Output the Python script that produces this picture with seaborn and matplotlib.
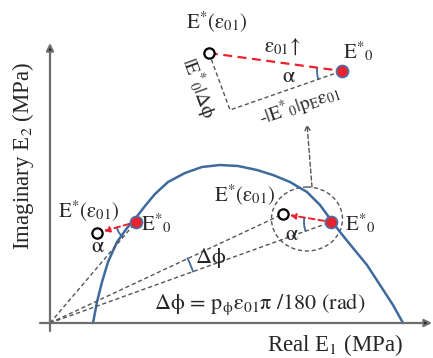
import numpy as np
import matplotlib
matplotlib.use("Agg")
import matplotlib.pyplot as plt
from matplotlib.patches import Arc, Ellipse
import seaborn as sns
import pandas as pd

sns.set_theme(style="white")
plt.rcParams["font.family"] = ["Liberation Serif", "DejaVu Serif"]
plt.rcParams["mathtext.fontset"] = "stix"

# ---- data (schematic, in picture units: x = real part, y = imaginary part, y downward) ----
curve_re = [93, 97, 102, 108, 117, 127, 135, 145, 155, 168, 185, 202, 220, 238, 257,
            273, 290, 307, 320, 331, 340, 353, 367, 380, 393, 403]
curve_im = [323, 302, 282, 262, 242, 228, 219, 206, 194, 182, 173, 167, 165, 166, 170,
            175, 182, 192, 205, 220, 232, 248, 265, 285, 305, 323]
origin = (50, 323)
e0_left = (136, 222)
e01_left = (97, 233)
e0_right = (331, 222)
e01_right = (283, 214)
e0_inset = (342, 71)
e01_inset = (209, 53)
corner_inset = (230, 110)

BLUE = "#3f6a9e"
RED = "#e8232d"
GRAY = "#555555"
AX = "#6e6e6e"

fig = plt.figure(figsize=(4.33, 3.58), dpi=100)
ax = fig.add_axes([0, 0, 1, 1])
ax.set_xlim(0, 433)
ax.set_ylim(358, 0)
ax.axis("off")

# axes with arrows
ax.annotate("", xy=(50, 43), xytext=(50, 331),
            arrowprops=dict(arrowstyle="-|>", color=AX, lw=1.6, mutation_scale=11,
                            shrinkA=0, shrinkB=0, fc="black"))
ax.annotate("", xy=(432, 323), xytext=(40, 323),
            arrowprops=dict(arrowstyle="-|>", color=AX, lw=1.6, mutation_scale=11,
                            shrinkA=0, shrinkB=0, fc="black"))

# curve
df = pd.DataFrame({"re": curve_re, "im": curve_im})
sns.lineplot(data=df, x="re", y="im", sort=False, color=BLUE, lw=1.8, ax=ax, estimator=None)

dash = (0, (3, 2))
# dashed rays from origin
for p in [e0_left, e0_right, e01_right]:
    ax.plot([origin[0], p[0]], [origin[1], p[1]], color=GRAY, lw=1.0, ls=dash)

# inset dashed right angle
ax.plot([e01_inset[0], corner_inset[0], e0_inset[0]],
        [e01_inset[1], corner_inset[1], e0_inset[1]], color=GRAY, lw=1.0, ls=dash)
ax.plot([e01_inset[0], e0_inset[0]], [e01_inset[1], e0_inset[1]], color=RED, lw=1.6, ls=(0, (4, 2.5)))

# red dashed arrows
for a, b in [(e0_left, e01_left), (e0_right, e01_right)]:
    ax.annotate("", xy=b, xytext=a,
                arrowprops=dict(arrowstyle="-|>", color=RED, lw=1.4, ls=(0, (3, 2)),
                                shrinkA=5, shrinkB=5, mutation_scale=8))

# ellipse (zoom region)
ax.add_patch(Ellipse((307, 219), 71, 64, fill=False, ec=GRAY, lw=1.0, ls=dash))
# dashed arrow up to inset
ax.annotate("", xy=(307, 124), xytext=(312, 187),
            arrowprops=dict(arrowstyle="->", color=GRAY, lw=1.0, ls=(0, (3, 2)),
                            shrinkA=0, shrinkB=0, mutation_scale=9))

# angle arcs
def arc(v, r, t1, t2):
    ax.add_patch(Arc(v, 2 * r, 2 * r, theta1=t1, theta2=t2, color=BLUE, lw=1.3))

arc(e0_left, 20, 130, 166)
arc(e0_right, 27, 160, 190)
arc(origin, 152, -25.5, -19.5)
arc(e0_inset, 25, 160, 188)

# points
pts_red = pd.DataFrame({"re": [e0_left[0], e0_right[0], e0_inset[0]],
                        "im": [e0_left[1], e0_right[1], e0_inset[1]]})
pts_hol = pd.DataFrame({"re": [e01_left[0], e01_right[0], e01_inset[0]],
                        "im": [e01_left[1], e01_right[1], e01_inset[1]]})
sns.scatterplot(data=pts_red, x="re", y="im", s=75, color=RED, edgecolor="#4a6fa8",
                linewidth=1.2, zorder=5, ax=ax)
sns.scatterplot(data=pts_hol, x="re", y="im", s=55, facecolor="white", edgecolor="black",
                linewidth=1.6, zorder=5, ax=ax)

# texts
E01 = r"$\mathrm{E}^{*}(\mathrm{\varepsilon}_{01})$"
E0 = r"$\mathrm{E}^{*}{}_{0}$"
ALPHA = r"$\mathrm{\alpha}$"
ax.text(89, 211, E01, fontsize=15, ha="center", va="center")
ax.text(141, 224, E0, fontsize=15, ha="left", va="center")
ax.text(98, 248, ALPHA, fontsize=16, ha="center", va="center")

ax.text(245, 195, E01, fontsize=15, ha="center", va="center")
ax.text(345, 224, E0, fontsize=15, ha="left", va="center")
ax.text(292, 236, ALPHA, fontsize=16, ha="center", va="center")

ax.text(217, 22, E01, fontsize=15, ha="center", va="center")
ax.text(343, 52, E0, fontsize=15, ha="left", va="center")
ax.text(282, 47, r"$\mathrm{\varepsilon}_{01}\!\uparrow$", fontsize=15, ha="center", va="center")
ax.text(289, 77, ALPHA, fontsize=16, ha="center", va="center")
ax.text(300, 106, r"-$|\mathrm{E}^{*}{}_{0}|\mathrm{p}_{\mathrm{E}}\mathrm{\varepsilon}_{01}$", fontsize=14,
        ha="center", va="center", rotation=19, rotation_mode="anchor")
ax.text(198, 88, r"$|\mathrm{E}^{*}{}_{0}|\Delta\mathrm{\phi}$", fontsize=14,
        ha="center", va="center", rotation=-70, rotation_mode="anchor")

ax.text(211, 258, r"$\Delta\mathrm{\phi}$", fontsize=16, ha="center", va="center")
ax.text(260, 304, r"$\Delta\mathrm{\phi}\,=\,\mathrm{p}_{\mathrm{\phi}}\mathrm{\varepsilon}_{01}\mathrm{\pi}\ /180\ (\mathrm{rad})$",
        fontsize=16, ha="center", va="center")

ax.text(335, 345, r"Real E$_1$ (MPa)", fontsize=16.5, ha="center", va="center")
ax.text(23, 156, r"Imaginary E$_2$ (MPa)", fontsize=16.5, ha="center", va="center", rotation=90)

fig.savefig("out.png", dpi=100)
